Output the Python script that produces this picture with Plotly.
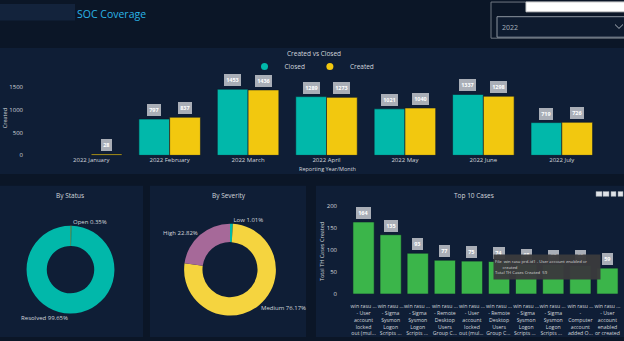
import plotly.graph_objects as go

# ---------------- data ----------------
months = ["2022 January", "2022 February", "2022 March", "2022 April",
          "2022 May", "2022 June", "2022 July"]
closed = [None, 797, 1453, 1289, 1021, 1337, 719]
created = [28, 837, 1436, 1273, 1040, 1298, 726]

status_labels = ["Open", "Resolved"]
status_values = [23, 6615]

severity_labels = ["Low", "Medium", "High"]
severity_values = [67, 5056, 1515]

top_cases = [
    "win rasu ...<br>- User<br>account<br>locked<br>out (mul...",
    "win rasu ...<br>- Sigma<br>Sysmon<br>Logon<br>Scripts ...",
    "win rasu ... <br>- Sigma<br>Sysmon<br>Logon<br>Scripts ... ",
    "win rasu ...<br>- Remote<br>Desktop<br>Users<br>Group C...",
    "win rasu ...<br>- User<br>account<br>locked<br>out (mul... ",
    "win rasu ...<br>- Remote<br>Desktop<br>Users<br>Group C... ",
    "win rasu ...<br>- Sigma<br>Sysmon<br>Logon<br>Scripts ...  ",
    "win rasu ... <br>- Sigma<br>Sysmon<br>Logon<br>Scripts ...   ",
    "win rasu ...<br>-<br>Computer<br>account<br>added O...",
    "win rasu ...<br>- User<br>account<br>enabled<br>or created",
]
top_counts = [164, 135, 93, 77, 75, 74, 68, 67, 65, 59]

# ---------------- style ----------------
W, H = 624, 341
FONT = "Segoe UI, Open Sans, sans-serif"
TEAL = "#01B8AA"
YELLOW = "#F2C80F"
MED_YELLOW = "#F5D43F"
PURPLE = "#A66999"
GREEN = "#3BB54A"
BG = "#0b1627"
PANEL = "#0f1e36"
TXT = "#d3d7dd"
LBL_BG = "#a9aeb7"
BARGAP = 0.215


def px(x):
    return x / W


def py(y):
    return 1 - y / H


fig = go.Figure()

# Created vs Closed
fig.add_trace(go.Bar(x=months, y=closed, name="Closed", marker=dict(color=TEAL, line=dict(color="#0d1a2c", width=0.6)),
                     xaxis="x", yaxis="y", showlegend=False, hoverinfo="skip"))
fig.add_trace(go.Bar(x=months, y=created, name="Created", marker=dict(color=YELLOW, line=dict(color="#0d1a2c", width=0.6)),
                     xaxis="x", yaxis="y", showlegend=False, hoverinfo="skip"))
# legend entries (circles like the original)
fig.add_trace(go.Scatter(x=[None], y=[None], mode="markers", name="Closed",
                         marker=dict(symbol="circle", size=7, color=TEAL), xaxis="x", yaxis="y"))
fig.add_trace(go.Scatter(x=[None], y=[None], mode="markers", name="Created",
                         marker=dict(symbol="circle", size=7, color=YELLOW), xaxis="x", yaxis="y"))

# Top 10 cases
fig.add_trace(go.Bar(x=top_cases, y=top_counts, marker=dict(color=GREEN, line=dict(color="#0d1a2c", width=0.6)),
                     xaxis="x2", yaxis="y2", showlegend=False, hoverinfo="skip"))

# Donuts
fig.add_trace(go.Pie(labels=status_labels, values=status_values, hole=0.54, sort=False,
                     direction="clockwise", rotation=0,
                     marker=dict(colors=[YELLOW, TEAL], line=dict(width=0)),
                     domain=dict(x=[px(25), px(116)], y=[py(317), py(227)]),
                     textposition="outside", texttemplate="%{label} %{percent:.2%}",
                     outsidetextfont=dict(size=6, color=TXT, family=FONT),
                     showlegend=False, hoverinfo="skip"))
fig.add_trace(go.Pie(labels=severity_labels, values=severity_values, hole=0.6, sort=False,
                     direction="clockwise", rotation=0,
                     marker=dict(colors=[TEAL, MED_YELLOW, PURPLE], line=dict(width=0)),
                     domain=dict(x=[px(183), px(277)], y=[py(319), py(225)]),
                     textposition="outside", texttemplate="%{label} %{percent:.2%}",
                     outsidetextfont=dict(size=6, color=TXT, family=FONT),
                     showlegend=False, hoverinfo="skip"))

annotations = []
# data labels for grouped bars
off = (1 - BARGAP) / 4
for i, m in enumerate(months):
    for v, d in ((closed[i], -off), (created[i], off)):
        if v is None:
            continue
        annotations.append(dict(x=i + d, y=v, xref="x", yref="y", text="<b>%d</b>" % v,
                                showarrow=False, yanchor="bottom", yshift=3,
                                bgcolor=LBL_BG, bordercolor=LBL_BG, borderpad=1.2,
                                font=dict(size=5.5, color="white", family=FONT)))
for i, v in enumerate(top_counts):
    annotations.append(dict(x=i, y=v, xref="x2", yref="y2", text="<b>%d</b>" % v,
                            showarrow=False, yanchor="bottom", yshift=3,
                            bgcolor=LBL_BG, bordercolor=LBL_BG, borderpad=1.2,
                            font=dict(size=5.5, color="white", family=FONT)))

def txt(x, y, s, size=7, color=TXT, xanchor="center", angle=0):
    annotations.append(dict(x=px(x), y=py(y), xref="paper", yref="paper", text=s,
                            showarrow=False, xanchor=xanchor, yanchor="middle", textangle=angle,
                            font=dict(size=size, color=color, family=FONT)))

txt(75, 10, "SOC Coverage", size=10.5, color="#2AB4E6", xanchor="left")
txt(314, 51, "Created vs Closed", size=6.5)
txt(5, 117, "Created", size=5.5, angle=-90)
txt(327, 169, "Reporting Year/Month", size=5.5)
txt(70, 196, "By Status", size=6.5)
txt(229, 196, "By Severity", size=6.5)
txt(474, 196, "Top 10 Cases", size=6.5)
txt(322, 254, "Total TH Cases Created", size=5.5, angle=-90)
txt(500, 24, "2022", size=7, color="#a9b0ba", xanchor="left")

# hover tooltip present in the screenshot
annotations.append(dict(x=px(547), y=py(269.5), xref="paper", yref="paper", showarrow=False,
                        xanchor="center", yanchor="middle",
                        width=104, height=22, align="left", bgcolor="rgba(58,58,60,0.96)",
                        text="File&nbsp;&nbsp;win rasu prd-id1 - User account enabled or<br>"
                             "&nbsp;&nbsp;&nbsp;&nbsp;&nbsp;&nbsp;&nbsp;created<br>"
                             "Total TH Cases Created&nbsp;&nbsp;59",
                        font=dict(size=4.2, color="#d8d8d8", family=FONT)))

shapes = []
def rect(x0, y0, x1, y1, fill, line=None, lw=0):
    shapes.append(dict(type="rect", xref="paper", yref="paper", layer="below",
                       x0=px(x0), x1=px(x1), y0=py(y1), y1=py(y0), fillcolor=fill,
                       line=dict(color=line or fill, width=lw)))

rect(0, 0, 75, 17, "#13233c")
rect(0, 45, 624, 174, PANEL)
rect(0, 186, 143, 341, PANEL)
rect(150, 186, 306, 341, PANEL)
rect(316, 186, 624, 341, PANEL)
# slicer box
shapes.append(dict(type="rect", xref="paper", yref="paper", x0=px(491), x1=px(628), y0=py(35), y1=py(-2),
                   line=dict(color="#6f7782", width=1), fillcolor="rgba(0,0,0,0)"))
shapes.append(dict(type="rect", xref="paper", yref="paper", x0=px(497), x1=px(628), y0=py(34), y1=py(13),
                   line=dict(color="#8d95a0", width=1), fillcolor="#0e1b2f"))
shapes.append(dict(type="rect", xref="paper", yref="paper", x0=px(526), x1=px(628), y0=py(8), y1=py(-2),
                   line=dict(color="#cfcfcf", width=1), fillcolor="#ffffff"))
shapes.append(dict(type="path", xref="paper", yref="paper",
                   path="M %f %f L %f %f L %f %f" % (px(615), py(21), px(619), py(25), px(623), py(21)),
                   line=dict(color="#a9b0ba", width=1)))
# visual header icons of the Top 10 panel
for a, b in ((596, 602), (603, 609), (611, 616), (618, 623)):
    shapes.append(dict(type="rect", xref="paper", yref="paper", x0=px(a), x1=px(b), y0=py(197), y1=py(192),
                       line=dict(color="#8a929c", width=0.5), fillcolor="#dfe3e8"))

axis_common = dict(showgrid=False, zeroline=False, showline=False, ticks="",
                   tickfont=dict(size=6, color=TXT, family=FONT))

fig.update_layout(
    width=W, height=H, margin=dict(l=0, r=0, t=0, b=0),
    paper_bgcolor=BG, plot_bgcolor="rgba(0,0,0,0)",
    barmode="group", bargap=BARGAP, bargroupgap=0,
    font=dict(family=FONT, color=TXT),
    xaxis=dict(domain=[px(52), px(601)], anchor="y", type="category", **axis_common),
    yaxis=dict(domain=[py(155), py(80.33)], anchor="x", range=[0, 1600],
               tickvals=[0, 500, 1000, 1500], ticklabelstandoff=28, **axis_common),
    xaxis2=dict(domain=[px(350), px(621)], anchor="y2", type="category", tickangle=0,
                showgrid=False, zeroline=False, showline=False, ticks="", ticklabelstandoff=8,
                tickfont=dict(size=5.2, color=TXT, family=FONT)),
    yaxis2=dict(domain=[py(297), py(207)], anchor="x2", range=[0, 200],
                tickvals=[0, 50, 100, 150, 200], ticklabelstandoff=12, **axis_common),
    legend=dict(orientation="h", x=0.5, xanchor="center", y=py(64), yanchor="middle",
                font=dict(size=6.5, color=TXT, family=FONT), bgcolor="rgba(0,0,0,0)",
                itemwidth=30, tracegroupgap=0),
    annotations=annotations, shapes=shapes,
)

fig.write_html("out.html")
